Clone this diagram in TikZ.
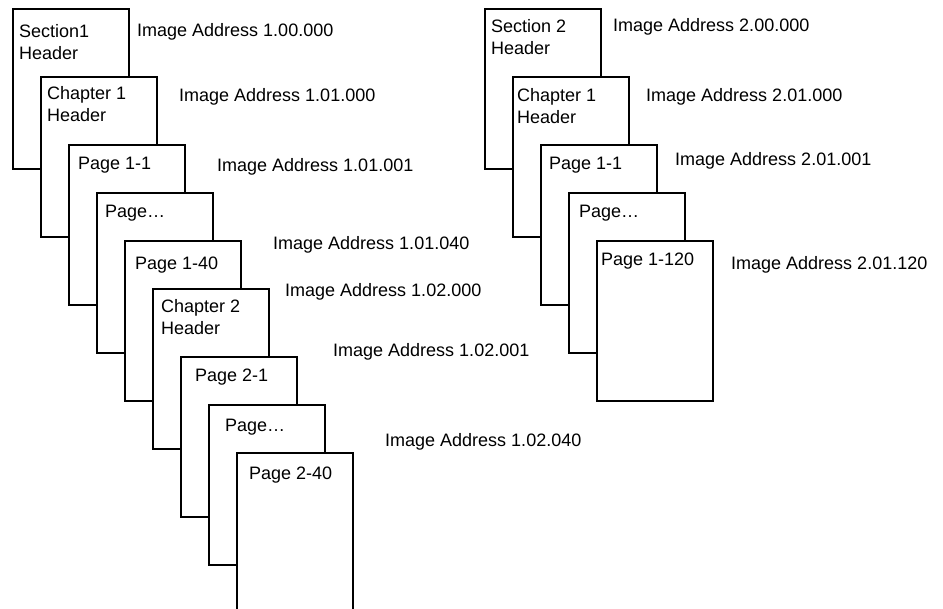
\documentclass[tikz,border=0pt]{standalone}
\usepackage{fontspec}
\setmainfont{Liberation Sans}
\usetikzlibrary{positioning}

\begin{document}
\begin{tikzpicture}[
  x=1pt, y=-1pt,
  sheet/.style={
    draw=black,
    line width=1.8pt,
    fill=white,
    anchor=north west,
    minimum width=116pt,
    minimum height=160pt,
    inner sep=0pt
  },
  sheettxt/.style={
    anchor=base west,
    inner sep=0pt,
    align=left,
    font=\fontsize{18}{22.5}\selectfont
  },
  addr/.style={
    anchor=base west,
    inner sep=0pt,
    font=\fontsize{18}{22.5}\selectfont
  }
]
\useasboundingbox (0,0) rectangle (943,609);
\clip (0,0) rectangle (943,609);

% -------- Section 1 stack --------
\node[sheet] (sec1) at (12,8) {};
\node[sheettxt] (sec1t) at (19,60) {Section1\\Header};
\node[sheet] (ch1) at (40,76) {};
\node[sheettxt] (ch1t) at (47,122) {Chapter 1\\Header};
\node[sheet] (pg11) at (68,144) {};
\node[sheettxt] (pg11t) at (78,170) {Page 1-1};
\node[sheet] (pg1x) at (96,192) {};
\node[sheettxt] (pg1xt) at (105,218) {Page…};
\node[sheet] (pg140) at (124,240) {};
\node[sheettxt] (pg140t) at (135,270) {Page 1-40};
\node[sheet] (ch2) at (152,288) {};
\node[sheettxt] (ch2t) at (161,335) {Chapter 2\\Header};
\node[sheet] (pg21) at (180,356) {};
\node[sheettxt] (pg21t) at (195,382) {Page 2-1};
\node[sheet] (pg2x) at (208,404) {};
\node[sheettxt] (pg2xt) at (225,432) {Page…};
\node[sheet] (pg240) at (236,452) {};
\node[sheettxt] (pg240t) at (249,480) {Page 2-40};

% -------- Section 1 addresses --------
\node[addr] (a100000) at (137,37) {Image Address 1.00.000};
\node[addr] (a101000) at (179,102) {Image Address 1.01.000};
\node[addr] (a101001) at (217,172) {Image Address 1.01.001};
\node[addr] (a101040) at (273,250) {Image Address 1.01.040};
\node[addr] (a102000) at (285,297) {Image Address 1.02.000};
\node[addr] (a102001) at (333,357) {Image Address 1.02.001};
\node[addr] (a102040) at (385,447) {Image Address 1.02.040};

% -------- Section 2 stack --------
\node[sheet] (sec2) at (484,8) {};
\node[sheettxt] (sec2t) at (491,55) {Section 2\\Header};
\node[sheet] (sch1) at (512,76) {};
\node[sheettxt] (sch1t) at (517,124) {Chapter 1\\Header};
\node[sheet] (spg11) at (540,144) {};
\node[sheettxt] (spg11t) at (549,170) {Page 1-1};
\node[sheet] (spg1x) at (568,192) {};
\node[sheettxt] (spg1xt) at (579,218) {Page…};
\node[sheet] (spg1120) at (596,240) {};
\node[sheettxt] (spg1120t) at (601,266) {Page 1-120};

% -------- Section 2 addresses --------
\node[addr] (a200000) at (613,32) {Image Address 2.00.000};
\node[addr] (a201000) at (646,102) {Image Address 2.01.000};
\node[addr] (a201001) at (675,166) {Image Address 2.01.001};
\node[addr] (a201120) at (731,270) {Image Address 2.01.120};

\end{tikzpicture}
\end{document}
